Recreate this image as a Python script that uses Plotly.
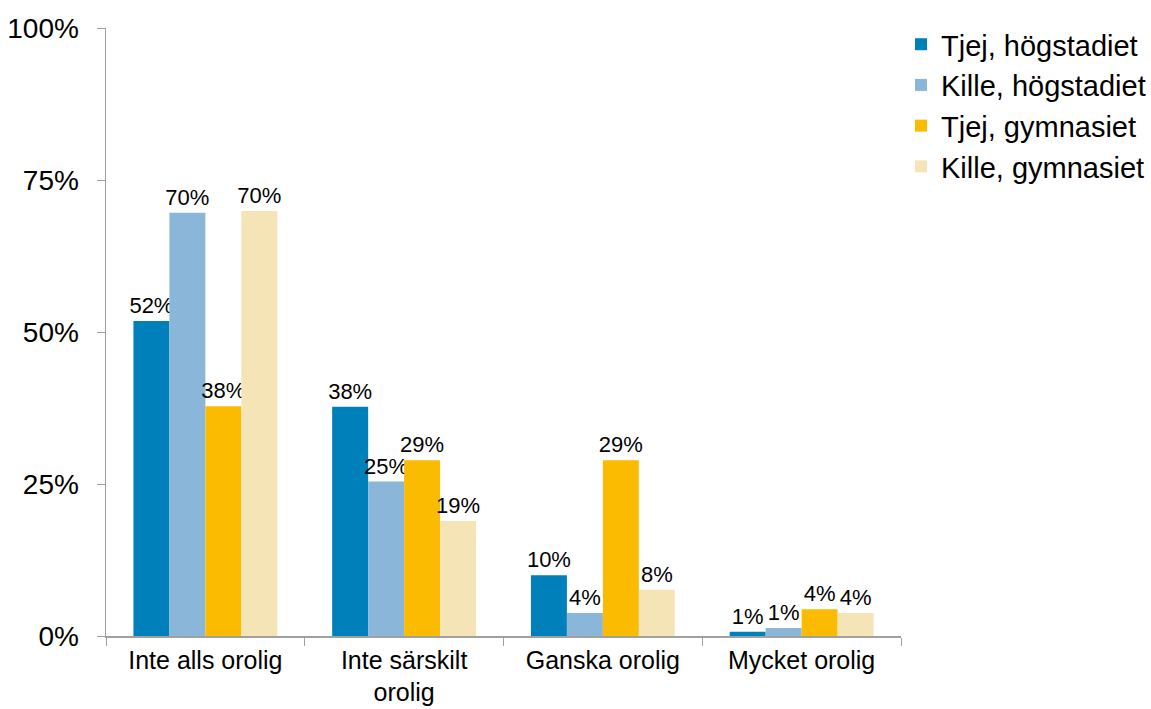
import plotly.graph_objects as go

categories = ["Inte alls orolig", "Inte särskilt<br>orolig", "Ganska orolig", "Mycket orolig"]
series_names = ["Tjej, högstadiet", "Kille, högstadiet", "Tjej, gymnasiet", "Kille, gymnasiet"]
tjej_hog = [51.8, 37.7, 10.0, 0.7]
kille_hog = [69.6, 25.4, 3.8, 1.3]
tjej_gym = [37.8, 28.9, 28.9, 4.4]
kille_gym = [69.9, 18.9, 7.6, 3.8]
colors = ["#0080BA", "#8AB6D9", "#FABB00", "#F5E4B5"]
y_ticks = [0, 25, 50, 75, 100]
y_tick_labels = ["0%", "25%", "50%", "75%", "100%"]

FONT = "Liberation Sans, Arial, sans-serif"

fig = go.Figure()
for name, vals, col in zip(series_names, [tjej_hog, kille_hog, tjej_gym, kille_gym], colors):
    fig.add_trace(go.Bar(
        x=categories, y=vals, name=name,
        marker=dict(color=col, line=dict(width=0)),
        texttemplate="%{y:.0f}%", textposition="outside",
        constraintext="none", cliponaxis=False,
        textfont=dict(family=FONT, size=22, color="#000000"),
    ))

fig.update_layout(
    width=1151, height=709,
    barmode="group", bargap=0.276, bargroupgap=0,
    paper_bgcolor="white", plot_bgcolor="white",
    margin=dict(l=106, r=250, t=28, b=73, autoexpand=False),
    font=dict(family=FONT, color="#000000"),
    showlegend=True,
    legend=dict(x=1.0, xanchor="left", y=1.015, yanchor="top",
                font=dict(family=FONT, size=29, color="#000000"),
                bgcolor="rgba(0,0,0,0)", itemclick=False, tracegroupgap=0),
    xaxis=dict(
        automargin=False,
        showline=True, linecolor="#A0A0A0", linewidth=1.5,
        ticks="outside", tickson="boundaries", ticklen=8, tickcolor="#A0A0A0",
        tickfont=dict(family=FONT, size=25, color="#000000"),
        ticklabelstandoff=1,
        showgrid=False, zeroline=False,
    ),
    yaxis=dict(
        automargin=False,
        range=[0, 100], tickvals=y_ticks, ticktext=y_tick_labels,
        showline=True, linecolor="#A0A0A0", linewidth=1.5,
        ticks="outside", ticklen=8, tickcolor="#A0A0A0",
        tickfont=dict(family=FONT, size=28, color="#000000"),
        ticklabelstandoff=12,
        showgrid=False, zeroline=False,
    ),
)

fig.write_html(
    "out.html",
    config={"displayModeBar": False, "staticPlot": True},
    post_script="document.body.style.margin='0px';document.body.style.padding='0px';document.body.style.overflow='hidden';",
)
